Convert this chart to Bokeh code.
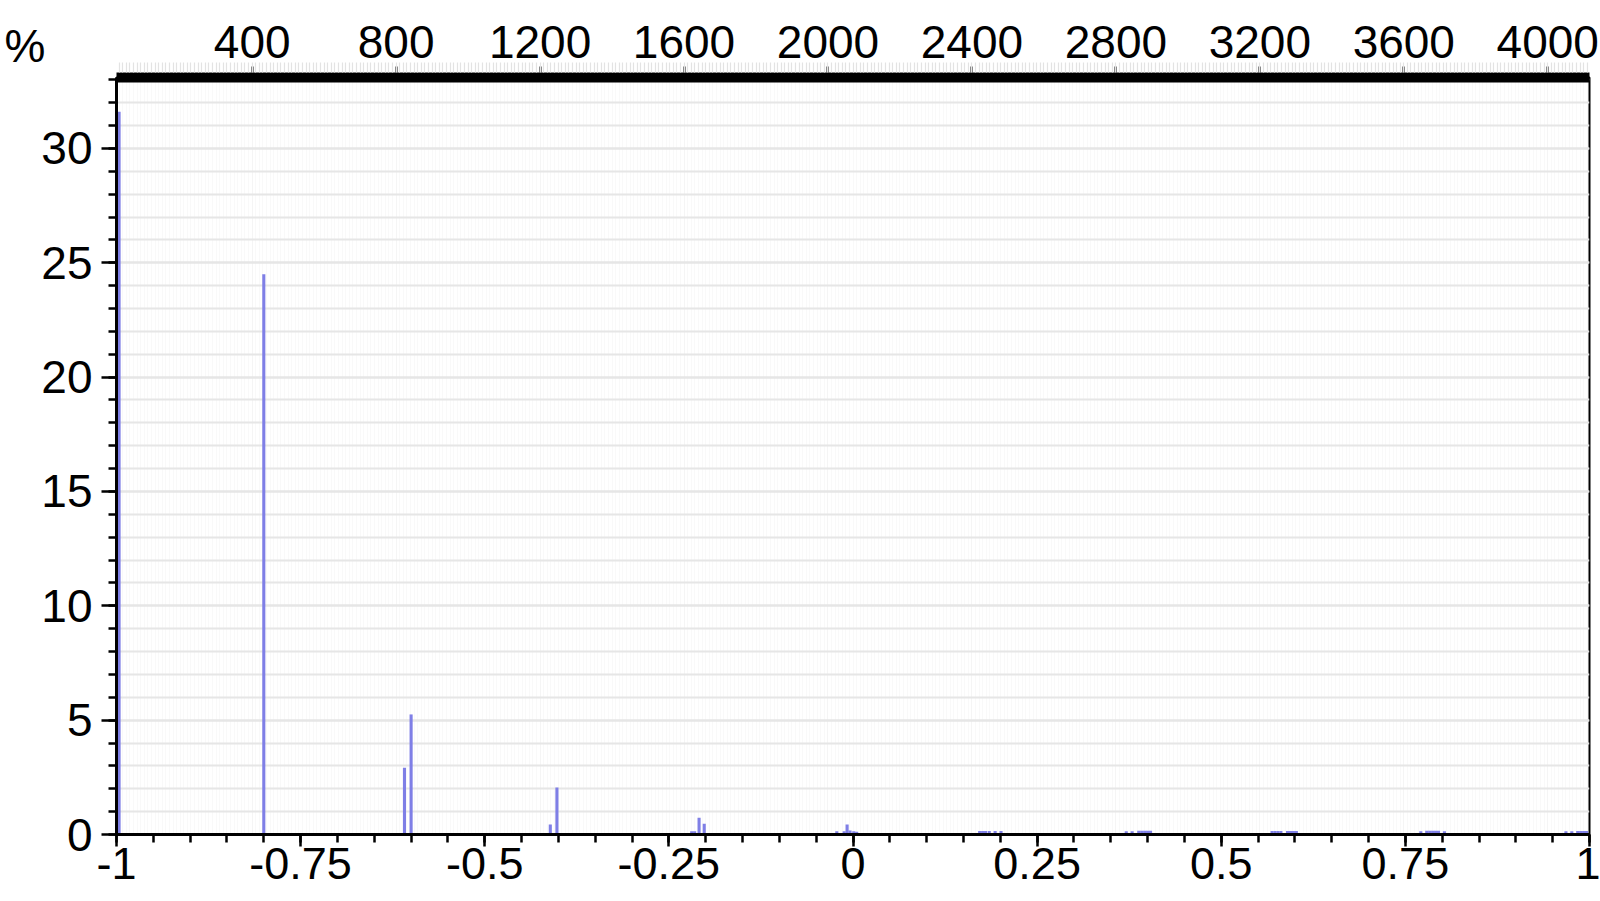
from bokeh.plotting import figure
from bokeh.models import (Range1d, LinearAxis, SingleIntervalTicker, FixedTicker,
                          Grid, ColumnDataSource)
from bokeh.embed import file_html
from bokeh.resources import INLINE

# ---- data (bin position, percentage) ----
bin_x = [-0.9965, -0.800, -0.609, -0.600, -0.411, -0.402,
         -0.219, -0.215, -0.209, -0.202,
         -0.022, -0.012, -0.008, -0.004, 0.001, 0.005,
         0.172, 0.176, 0.180, 0.185, 0.193, 0.201,
         0.371, 0.379, 0.388, 0.392, 0.396, 0.400, 0.404,
         0.569, 0.573, 0.577, 0.581, 0.590, 0.594, 0.598, 0.602,
         0.771, 0.779, 0.783, 0.787, 0.791, 0.795, 0.803,
         0.968, 0.976, 0.984, 0.988, 0.992, 0.996]
bin_pct = [31.6, 24.5, 2.92, 5.25, 0.44, 2.05,
           0.14, 0.14, 0.73, 0.47,
           0.14, 0.14, 0.44, 0.18, 0.14, 0.12,
           0.15, 0.15, 0.15, 0.15, 0.15, 0.15,
           0.14, 0.14, 0.16, 0.16, 0.16, 0.16, 0.16,
           0.15, 0.15, 0.15, 0.15, 0.15, 0.15, 0.15, 0.15,
           0.14, 0.16, 0.16, 0.16, 0.16, 0.16, 0.14,
           0.14, 0.14, 0.15, 0.15, 0.15, 0.15]

bottom_ticks = [-1, -0.75, -0.5, -0.25, 0, 0.25, 0.5, 0.75, 1]
bottom_labels = ["-1", "-0.75", "-0.5", "-0.25", "0", "0.25", "0.5", "0.75", "1"]
bottom_minor = [round(-1 + 0.05 * i, 2) for i in range(41)]
top_range = (23, 4116)
y_max = 33.1
y_unit_label = "%\n"

FONT = "Liberation Sans"
FS = "46px"
BAR = "#7f7fe6"

p = figure(width=1600, height=901,
           x_range=Range1d(-1, 1), y_range=Range1d(0, y_max),
           output_backend="svg", toolbar_location=None,
           x_axis_location=None, y_axis_location=None,
           min_border_left=116, min_border_right=11,
           min_border_top=77, min_border_bottom=67)
p.grid.visible = False
p.outline_line_color = "black"
p.outline_line_width = 2
p.background_fill_color = "white"
p.border_fill_color = "white"

p.extra_x_ranges = {"top": Range1d(*top_range)}

# ---- grids (vertical faint first, horizontal on top) ----
top_ticker = SingleIntervalTicker(interval=400, num_minor_ticks=40)
y_ticker = SingleIntervalTicker(interval=5, num_minor_ticks=5)

xgrid = Grid(dimension=0, ticker=top_ticker, x_range_name="top")
xgrid.grid_line_color = "#f5f5f5"
xgrid.minor_grid_line_color = "#f9f9f9"
xgrid.minor_grid_line_width = 1
p.add_layout(xgrid)

ygrid = Grid(dimension=1, ticker=y_ticker)
ygrid.grid_line_color = "#e6e6e6"
ygrid.grid_line_width = 2
ygrid.minor_grid_line_color = "#e6e6e6"
ygrid.minor_grid_line_width = 2
p.add_layout(ygrid)

# ---- axes ----
top_axis = LinearAxis(x_range_name="top", ticker=top_ticker)
top_axis.axis_line_width = 10
top_axis.axis_line_color = "black"
top_axis.major_tick_out = 11
top_axis.major_tick_in = -5
top_axis.major_tick_line_width = 2
top_axis.minor_tick_out = 15
top_axis.minor_tick_in = -5
top_axis.minor_tick_line_color = "#e3e3e3"
top_axis.minor_tick_line_width = 1.2
top_axis.major_label_standoff = 5
top_axis.major_label_text_font = FONT
top_axis.major_label_text_font_size = FS
top_axis.major_label_text_color = "black"
p.add_layout(top_axis, "above")

left_axis = LinearAxis(ticker=y_ticker)
left_axis.axis_line_width = 3
left_axis.major_tick_out = 15
left_axis.major_tick_in = 0
left_axis.minor_tick_out = 8
left_axis.minor_tick_in = 0
left_axis.major_tick_line_width = 2.5
left_axis.minor_tick_line_width = 2.5
left_axis.minor_tick_line_color = "black"
left_axis.major_label_standoff = 9
left_axis.major_label_text_font = FONT
left_axis.major_label_text_font_size = FS
left_axis.major_label_text_color = "black"
left_axis.axis_label = y_unit_label
left_axis.axis_label_orientation = "horizontal"
left_axis.axis_label_standoff = -7
left_axis.axis_label_text_font = FONT
left_axis.axis_label_text_font_size = FS
left_axis.axis_label_text_font_style = "normal"
left_axis.axis_label_text_color = "black"
try:
    left_axis.axis_label_align = "end"
except AttributeError:
    pass
p.add_layout(left_axis, "left")

x_ticker = FixedTicker(ticks=bottom_ticks, minor_ticks=bottom_minor)
bottom_axis = LinearAxis(ticker=x_ticker)
bottom_axis.axis_line_width = 3
bottom_axis.major_tick_out = 12
bottom_axis.major_tick_in = 0
bottom_axis.minor_tick_out = 8
bottom_axis.minor_tick_in = 0
bottom_axis.major_tick_line_width = 2.5
bottom_axis.minor_tick_line_width = 2.5
bottom_axis.minor_tick_line_color = "black"
bottom_axis.major_label_standoff = 1
bottom_axis.major_label_text_font = FONT
bottom_axis.major_label_text_font_size = "45px"
bottom_axis.major_label_text_color = "black"
bottom_axis.major_label_overrides = {t: s for t, s in zip(bottom_ticks, bottom_labels)}
p.add_layout(bottom_axis, "below")

# ---- bars ----
src = ColumnDataSource(dict(x=bin_x, top=bin_pct))
p.vbar(x="x", top="top", bottom=0, width=0.0042, source=src,
       fill_color=BAR, line_color=None)

open("out.html", "w").write(file_html(p, INLINE))
